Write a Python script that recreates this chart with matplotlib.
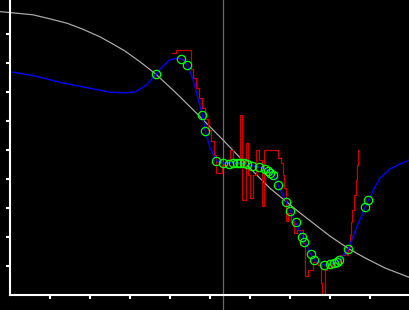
import matplotlib
matplotlib.use("Agg")
import matplotlib.pyplot as plt

# smooth reference curve (gray)
refX = [-0.25, 0.575, 1.0, 1.425, 1.825, 2.25, 2.55, 2.875, 3.25, 3.65, 4.125, 4.625,
        5.3, 6.125, 6.5, 7.25, 8.0, 8.45, 8.875, 9.375, 10.0]
refY = [9.78, 9.67, 9.53, 9.38, 9.17, 8.91, 8.68, 8.42, 8.05, 7.62, 7.01, 6.33,
        5.39, 4.21, 3.69, 2.84, 2.04, 1.62, 1.29, 0.94, 0.61]

# fitted curve (blue)
fitX = [0, 0.625, 1.25, 1.875, 2.5, 2.875, 3.125, 3.375, 3.5, 3.65, 3.825, 4.0, 4.2,
        4.325, 4.43, 4.58, 4.71, 4.81, 4.88, 5.0, 5.16, 5.32, 5.75, 6.05, 6.38, 6.58,
        6.70, 6.91, 7.14, 7.31, 7.52, 7.65, 7.85, 8.0, 8.22, 8.46, 8.65, 8.88, 9.08,
        9.25, 9.5, 9.75, 10.0]
fitY = [7.71, 7.56, 7.34, 7.17, 7.0, 6.98, 7.01, 7.22, 7.39, 7.62, 7.91, 8.12, 8.18,
        8.12, 7.94, 7.42, 6.73, 6.21, 5.66, 5.08, 4.64, 4.56, 4.57, 4.47, 4.37, 4.14,
        3.80, 3.21, 2.52, 2.01, 1.41, 1.17, 1.04, 1.06, 1.21, 1.61, 2.29, 3.04, 3.63,
        4.04, 4.36, 4.53, 4.67]

# raw step signal (red)
rawX = [4.04, 4.15, 4.52, 4.575, 4.65, 4.725, 4.8, 4.875, 4.95, 5.025, 5.1, 5.14,
        5.3, 5.425, 5.5, 5.575, 5.75, 5.81, 5.89, 5.95, 6.0, 6.075, 6.15, 6.225, 6.29,
        6.34, 6.71, 6.775, 6.825, 6.86, 6.9, 6.95, 7.025, 7.1, 7.175, 7.32, 7.375,
        7.46, 7.57, 7.71, 7.77, 7.79, 7.875, 7.92, 8.04, 8.25, 8.375, 8.43, 8.46,
        8.49, 8.525, 8.56, 8.6, 8.64, 8.675, 8.71]
rawY = [8.34, 8.44, 7.80, 7.49, 7.15, 6.80, 6.46, 6.08, 5.70, 5.32, 4.84, 4.21,
        4.49, 4.67, 5.01, 4.56, 6.22, 3.29, 5.25, 4.15, 3.36, 4.15, 5.01, 4.67, 3.08,
        5.01, 4.73, 4.56, 4.15, 3.70, 2.56, 2.84, 2.53, 2.15, 2.25, 1.80, 0.67,
        0.87, 1.15, 1.04, 0.42, 0.01, 0.87, 0.99, 1.10, 1.39, 1.49, 1.39, 1.68,
        2.08, 2.53, 2.94, 3.46, 3.98, 4.49, 5.01]

# sample points (green)
sampleX = [3.65, 4.27, 4.43, 4.81, 4.88, 5.16, 5.32, 5.47, 5.58, 5.67, 5.75, 5.85,
           5.93, 6.05, 6.23, 6.38, 6.44, 6.51, 6.58, 6.70, 6.91, 7.01, 7.14, 7.31,
           7.36, 7.52, 7.61, 7.85, 8.00, 8.10, 8.17, 8.22, 8.46, 8.88, 8.96]
sampleY = [7.62, 8.14, 7.94, 6.21, 5.66, 4.64, 4.56, 4.54, 4.55, 4.56, 4.57, 4.55,
           4.52, 4.47, 4.41, 4.37, 4.30, 4.23, 4.14, 3.80, 3.21, 2.89, 2.52, 2.01,
           1.85, 1.41, 1.23, 1.04, 1.08, 1.12, 1.16, 1.21, 1.61, 3.04, 3.29]

markerX = 5.33
ticks = [1, 2, 3, 4, 5, 6, 7, 8, 9]

fig = plt.figure(figsize=(4.1, 3.1), dpi=100, facecolor="black")
ax = fig.add_axes([0, 0, 1, 1])
ax.set_facecolor("black")

ax.axvline(markerX, color="#7a5a8a", linewidth=0.9)
ax.plot(refX, refY, color="#a8a8a8", linewidth=0.9)
ax.plot(rawX, rawY, color="#cc0000", linewidth=0.9, drawstyle="steps-post")
ax.plot(fitX, fitY, color="#0000ff", linewidth=1.0)
ax.plot(sampleX, sampleY, linestyle="none", marker="o", markersize=6,
        markerfacecolor="none", markeredgecolor="#00ff00", markeredgewidth=0.9)

ax.set_xlim(-0.25, 10.0)
ax.set_ylim(-0.507, 10.18)

for side in ["top", "right"]:
    ax.spines[side].set_visible(False)
ax.spines["left"].set_position(("data", 0))
ax.spines["bottom"].set_position(("data", 0))
ax.spines["left"].set_bounds(0, 10.18)
ax.spines["bottom"].set_bounds(0, 10.0)
for side in ["left", "bottom"]:
    ax.spines[side].set_color("white")
    ax.spines[side].set_linewidth(1.5)

ax.set_xticks(ticks)
ax.set_yticks(ticks)
ax.set_xticklabels([])
ax.set_yticklabels([])
ax.tick_params(colors="white", direction="out", length=3, width=1.5)

plt.savefig("out.png", dpi=100, facecolor="black")
plt.close()
